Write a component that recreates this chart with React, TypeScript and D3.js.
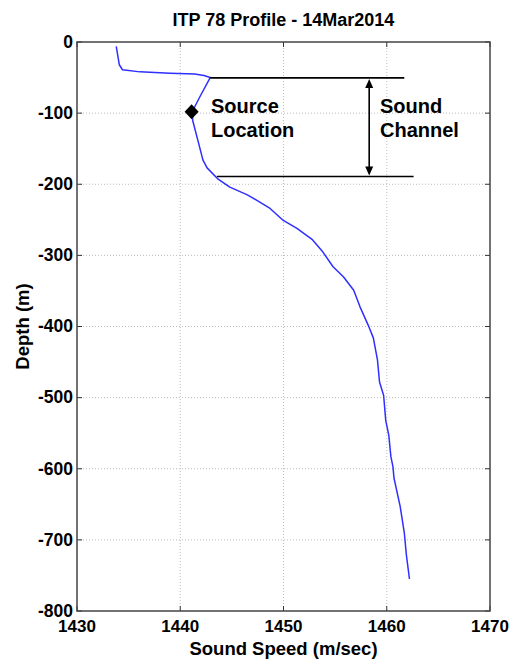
import React from "react";
import * as d3 from "d3";

const profileSpeed = [1433.8, 1434.1, 1434.4, 1436.1, 1439.0, 1441.4, 1442.3, 1442.9, 1441.9, 1441.2, 1441.2, 1441.7, 1442.2, 1442.6, 1443.6, 1444.8, 1446.5, 1447.7, 1448.7, 1449.9, 1451.3, 1452.8, 1453.8, 1454.8, 1455.8, 1456.8, 1457.4, 1458.2, 1458.7, 1459.1, 1459.3, 1459.7, 1459.9, 1460.2, 1460.4, 1460.6, 1460.7, 1461.3, 1461.7, 1461.9, 1462.2];
const profileDepth = [-6, -32, -39, -42, -44, -45, -47, -50, -77, -97, -110, -138, -166, -177, -192, -204, -215, -225, -234, -250, -262, -278, -295, -316, -330, -349, -372, -398, -416, -447, -478, -497, -532, -553, -583, -597, -613, -653, -690, -721, -755];

const xTicks = [1430, 1440, 1450, 1460, 1470];
const yTicks = [0, -100, -200, -300, -400, -500, -600, -700, -800];

const sourcePoint = { speed: 1441.1, depth: -98 };
const channelTop = { depth: -50.5, from: 1442.9, to: 1461.7 };
const channelBottom = { depth: -189, from: 1443.55, to: 1462.6 };
const channelArrowSpeed = 1458.3;

const titleText = "ITP 78 Profile - 14Mar2014";
const xLabel = "Sound Speed (m/sec)";
const yLabel = "Depth (m)";

const W = 517, H = 661;
const L = 77, R = 490, T = 42, B = 611;
const FONT = "'Liberation Sans', Arial, Helvetica, sans-serif";

export default function App() {
  const x = d3.scaleLinear().domain([1430, 1470]).range([L, R]);
  const y = d3.scaleLinear().domain([0, -800]).range([T, B]);
  const pts: [number, number][] = profileSpeed.map((s, i) => [s, profileDepth[i]]);
  const line = d3.line<[number, number]>().x(d => x(d[0])).y(d => y(d[1]));
  const sx = x(sourcePoint.speed), sy = y(sourcePoint.depth);
  const ax = x(channelArrowSpeed);
  const ay1 = y(channelTop.depth), ay2 = y(channelBottom.depth);
  const ah = 10, aw = 4;
  return (
    <svg width={W} height={H} style={{ position: "absolute", left: 0, top: 0, background: "#fff" }} fontFamily={FONT}>
      <rect x={0} y={0} width={W} height={H} fill="#fff" />
      {xTicks.slice(1, -1).map(t => (
        <line key={"gx" + t} x1={x(t)} x2={x(t)} y1={T} y2={B} stroke="#bdbdbd" strokeWidth={1} strokeDasharray="1,2" />
      ))}
      {yTicks.slice(1, -1).map(t => (
        <line key={"gy" + t} x1={L} x2={R} y1={y(t)} y2={y(t)} stroke="#bdbdbd" strokeWidth={1} strokeDasharray="1,2" />
      ))}
      {xTicks.map(t => (
        <g key={"tx" + t}>
          <line x1={x(t)} x2={x(t)} y1={B} y2={B - 5} stroke="#333" strokeWidth={1} />
          <line x1={x(t)} x2={x(t)} y1={T} y2={T + 5} stroke="#333" strokeWidth={1} />
          <text x={x(t)} y={632} textAnchor="middle" fontSize={17} fontWeight="bold" fill="#000">{t}</text>
        </g>
      ))}
      {yTicks.map(t => (
        <g key={"ty" + t}>
          <line x1={L} x2={L + 5} y1={y(t)} y2={y(t)} stroke="#333" strokeWidth={1} />
          <line x1={R} x2={R - 5} y1={y(t)} y2={y(t)} stroke="#333" strokeWidth={1} />
          <text x={73} y={y(t)} dy="0.33em" textAnchor="end" fontSize={17.5} fontWeight="bold" fill="#000">{t}</text>
        </g>
      ))}
      <rect x={L} y={T} width={R - L} height={B - T} fill="none" stroke="#444" strokeWidth={1.5} />
      <path d={line(pts) || ""} fill="none" stroke="#2f2fff" strokeWidth={1.5} strokeLinejoin="round" />
      <path d={`M${sx},${sy - 7.5} L${sx + 7},${sy} L${sx},${sy + 7.5} L${sx - 7},${sy} Z`} fill="#000" />
      <line x1={x(channelTop.from)} x2={x(channelTop.to)} y1={ay1} y2={ay1} stroke="#000" strokeWidth={1.6} />
      <line x1={x(channelBottom.from)} x2={x(channelBottom.to)} y1={ay2} y2={ay2} stroke="#000" strokeWidth={1.6} />
      <line x1={ax} x2={ax} y1={ay1 + ah - 1} y2={ay2 - ah + 1} stroke="#000" strokeWidth={1.6} />
      <path d={`M${ax},${ay1 + 1} L${ax + aw},${ay1 + ah} L${ax - aw},${ay1 + ah} Z`} fill="#000" />
      <path d={`M${ax},${ay2 - 1} L${ax + aw},${ay2 - ah} L${ax - aw},${ay2 - ah} Z`} fill="#000" />
      <text x={211} y={113} fontSize={20} fontWeight="bold" fill="#000">Source</text>
      <text x={211} y={137} fontSize={20} fontWeight="bold" fill="#000">Location</text>
      <text x={380} y={113} fontSize={20} fontWeight="bold" fill="#000">Sound</text>
      <text x={380} y={137} fontSize={20} fontWeight="bold" fill="#000">Channel</text>
      <text x={(L + R) / 2} y={26} textAnchor="middle" fontSize={18} fontWeight="bold" fill="#000">{titleText}</text>
      <text x={(L + R) / 2} y={655} textAnchor="middle" fontSize={18.5} fontWeight="bold" fill="#000">{xLabel}</text>
      <text transform={`translate(29,${(T + B) / 2}) rotate(-90)`} textAnchor="middle" fontSize={18.5} fontWeight="bold" fill="#000">{yLabel}</text>
    </svg>
  );
}
